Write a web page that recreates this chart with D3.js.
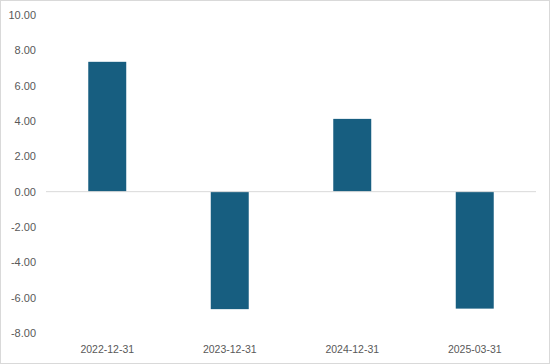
<!DOCTYPE html>
<html>
<head>
<meta charset="utf-8">
<script src="https://cdn.jsdelivr.net/npm/d3@7"></script>
<style>
  body { margin: 0; background: #fff; }
  text { font-family: "Liberation Sans", Arial, sans-serif; }
</style>
</head>
<body>
<div id="chart"></div>
<script>
// chart data
var categories = ["2022-12-31", "2023-12-31", "2024-12-31", "2025-03-31"];
var values = [7.35, -6.65, 4.12, -6.62];
var yTicks = [10, 8, 6, 4, 2, 0, -2, -4, -6, -8];

var width = 550, height = 364;
var margin = {top: 15, right: 14, bottom: 31, left: 46};

var svg = d3.select("#chart").append("svg")
  .attr("width", width)
  .attr("height", height);

// outer border
svg.append("rect")
  .attr("x", 0.5).attr("y", 0.5)
  .attr("width", width - 1).attr("height", height - 1)
  .attr("fill", "#fff")
  .attr("stroke", "#d9d9d9");

var x = d3.scaleBand()
  .domain(categories)
  .range([margin.left, width - margin.right])
  .paddingInner(0.69)
  .paddingOuter(0.345);

var y = d3.scaleLinear()
  .domain([-8, 10])
  .range([height - margin.bottom, margin.top]);

// plain hyphen for negatives, like the original
var fmt = function(d) { return d3.format(".2f")(d).replace("\u2212", "-"); };

// y labels
svg.append("g")
  .selectAll("text")
  .data(yTicks)
  .enter().append("text")
    .attr("x", 36)
    .attr("y", function(d) { return y(d); })
    .attr("dy", "0.35em")
    .attr("text-anchor", "end")
    .attr("font-size", 11)
    .attr("fill", "#595959")
    .text(fmt);

// bars
svg.append("g")
  .selectAll("rect")
  .data(values)
  .enter().append("rect")
    .attr("x", function(d, i) { return x(categories[i]); })
    .attr("y", function(d) { return y(Math.max(0, d)); })
    .attr("width", x.bandwidth())
    .attr("height", function(d) { return Math.abs(y(d) - y(0)); })
    .attr("fill", "#175e80");

// zero line
svg.append("line")
  .attr("x1", margin.left).attr("x2", width - margin.right)
  .attr("y1", y(0)).attr("y2", y(0))
  .attr("stroke", "#d9d9d9")
  .attr("stroke-width", 1);

// x labels
svg.append("g")
  .selectAll("text")
  .data(categories)
  .enter().append("text")
    .attr("x", function(d) { return x(d) + x.bandwidth() / 2; })
    .attr("y", 349)
    .attr("dy", "0.35em")
    .attr("text-anchor", "middle")
    .attr("font-size", 10.5)
    .attr("fill", "#595959")
    .text(function(d) { return d; });
</script>
</body>
</html>
